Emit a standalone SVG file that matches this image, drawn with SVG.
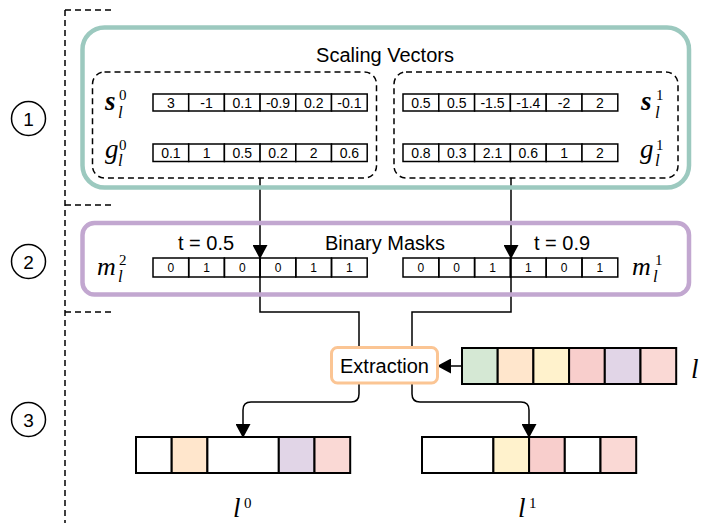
<svg xmlns="http://www.w3.org/2000/svg" width="702" height="523" viewBox="0 0 702 523">
<defs>
<style>
.t{font-family:"Liberation Sans",Arial,sans-serif;fill:#000}
.cell{fill:#fff;stroke:#000;stroke-width:1.5}
.vc{stroke:#000;stroke-width:2}
.ct{font-family:"Liberation Sans",Arial,sans-serif;font-size:14px;text-anchor:middle}
.mt{font-family:"Liberation Sans",Arial,sans-serif;font-size:12px;text-anchor:middle}
.dash{fill:none;stroke:#000;stroke-width:1.5;stroke-dasharray:6 4}
.m{font-family:"Liberation Serif","Times New Roman",serif;font-style:italic}
.n{font-family:"Liberation Serif","Times New Roman",serif;font-style:normal}
.conn{fill:none;stroke:#000;stroke-width:1.5}
</style>
<marker id="ah" viewBox="0 0 14 15" refX="13" refY="7.5" markerWidth="14" markerHeight="15" markerUnits="userSpaceOnUse" orient="auto">
<path d="M0 0 L14 7.5 L0 15 Z" fill="#000"/>
</marker>
</defs>
<rect width="702" height="523" fill="#fff"/>

<g id="stage-markers">
<path class="dash" d="M65 10 V523 M65 10 H113 M65 205 H113 M65 312 H113"/>
<circle cx="28.5" cy="118.5" r="17" fill="none" stroke="#000" stroke-width="1.5"/>
<text class="t" x="28.5" y="125.5" font-size="19" text-anchor="middle">1</text>
<circle cx="28.5" cy="261.5" r="17" fill="none" stroke="#000" stroke-width="1.5"/>
<text class="t" x="28.5" y="268.5" font-size="19" text-anchor="middle">2</text>
<circle cx="28.5" cy="419.5" r="17" fill="none" stroke="#000" stroke-width="1.5"/>
<text class="t" x="28.5" y="426.5" font-size="19" text-anchor="middle">3</text>
</g>

<g id="connectors">
<path class="conn" d="M260 178 V258" marker-end="url(#ah)"/>
<path class="conn" d="M511 178 V258" marker-end="url(#ah)"/>
<path class="conn" d="M260 258 V312 H359 V394 Q359 402 351 402 H251 Q243 402 243 410 V437" marker-end="url(#ah)"/>
<path class="conn" d="M511 258 V312 H412 V394 Q412 402 420 402 H521 Q529 402 529 410 V437" marker-end="url(#ah)"/>
<path class="conn" d="M461 366 H438" marker-end="url(#ah)"/>
</g>

<g id="scaling-vectors">
<rect x="82.5" y="27.5" width="606.5" height="160" rx="22" fill="none" stroke="#9CC9BF" stroke-width="4.5"/>
<text class="t" x="385" y="62" font-size="20" text-anchor="middle">Scaling Vectors</text>
</g>

<g id="vectors-0">
<rect class="dash" x="92.5" y="72" width="284" height="106" rx="12"/>
<text class="m" x="105" y="110" font-size="27" font-weight="bold">s</text>
<text class="n" x="119" y="100" font-size="15">0</text>
<text class="m" x="118" y="118" font-size="17">l</text>
<text class="m" x="105" y="158" font-size="27">g</text>
<text class="n" x="119" y="150" font-size="15">0</text>
<text class="m" x="118" y="166" font-size="17">l</text>
<g>
<rect class="cell" x="153" y="94" width="35.7" height="17"/><rect class="cell" x="188.7" y="94" width="35.7" height="17"/><rect class="cell" x="224.4" y="94" width="35.7" height="17"/><rect class="cell" x="260.1" y="94" width="35.7" height="17"/><rect class="cell" x="295.8" y="94" width="35.7" height="17"/><rect class="cell" x="331.5" y="94" width="35.7" height="17"/>
<text class="ct" x="170.9" y="107.5">3</text><text class="ct" x="206.6" y="107.5">-1</text><text class="ct" x="242.3" y="107.5">0.1</text><text class="ct" x="278" y="107.5">-0.9</text><text class="ct" x="313.7" y="107.5">0.2</text><text class="ct" x="349.4" y="107.5">-0.1</text>
</g>
<g>
<rect class="cell" x="153" y="144" width="35.7" height="17.5"/><rect class="cell" x="188.7" y="144" width="35.7" height="17.5"/><rect class="cell" x="224.4" y="144" width="35.7" height="17.5"/><rect class="cell" x="260.1" y="144" width="35.7" height="17.5"/><rect class="cell" x="295.8" y="144" width="35.7" height="17.5"/><rect class="cell" x="331.5" y="144" width="35.7" height="17.5"/>
<text class="ct" x="170.9" y="157.8">0.1</text><text class="ct" x="206.6" y="157.8">1</text><text class="ct" x="242.3" y="157.8">0.5</text><text class="ct" x="278" y="157.8">0.2</text><text class="ct" x="313.7" y="157.8">2</text><text class="ct" x="349.4" y="157.8">0.6</text>
</g>
</g>

<g id="vectors-1">
<rect class="dash" x="394" y="72" width="284" height="106" rx="12"/>
<text class="m" x="641" y="110" font-size="27" font-weight="bold">s</text>
<text class="n" x="656" y="100" font-size="15">1</text>
<text class="m" x="655" y="118" font-size="17">l</text>
<text class="m" x="640" y="158" font-size="27">g</text>
<text class="n" x="656" y="150" font-size="15">1</text>
<text class="m" x="655" y="166" font-size="17">l</text>
<g>
<rect class="cell" x="403" y="94" width="35.8" height="17"/><rect class="cell" x="438.8" y="94" width="35.8" height="17"/><rect class="cell" x="474.6" y="94" width="35.8" height="17"/><rect class="cell" x="510.4" y="94" width="35.8" height="17"/><rect class="cell" x="546.2" y="94" width="35.8" height="17"/><rect class="cell" x="582" y="94" width="35.8" height="17"/>
<text class="ct" x="420.9" y="107.5">0.5</text><text class="ct" x="456.7" y="107.5">0.5</text><text class="ct" x="492.5" y="107.5">-1.5</text><text class="ct" x="528.3" y="107.5">-1.4</text><text class="ct" x="564.1" y="107.5">-2</text><text class="ct" x="599.9" y="107.5">2</text>
</g>
<g>
<rect class="cell" x="403" y="144" width="35.8" height="17.5"/><rect class="cell" x="438.8" y="144" width="35.8" height="17.5"/><rect class="cell" x="474.6" y="144" width="35.8" height="17.5"/><rect class="cell" x="510.4" y="144" width="35.8" height="17.5"/><rect class="cell" x="546.2" y="144" width="35.8" height="17.5"/><rect class="cell" x="582" y="144" width="35.8" height="17.5"/>
<text class="ct" x="420.9" y="157.8">0.8</text><text class="ct" x="456.7" y="157.8">0.3</text><text class="ct" x="492.5" y="157.8">2.1</text><text class="ct" x="528.3" y="157.8">0.6</text><text class="ct" x="564.1" y="157.8">1</text><text class="ct" x="599.9" y="157.8">2</text>
</g>
</g>

<g id="binary-masks">
<rect x="82.5" y="223" width="606.5" height="71.5" rx="12" fill="none" stroke="#C2A7D0" stroke-width="4.5"/>
<text class="t" x="385" y="250" font-size="20" text-anchor="middle">Binary Masks</text>
<text class="t" x="206" y="250" font-size="20" text-anchor="middle">t = 0.5</text>
<text class="t" x="562" y="250" font-size="20" text-anchor="middle">t = 0.9</text>
</g>

<g id="mask-2">
<text class="m" x="97" y="275" font-size="26">m</text>
<text class="n" x="119" y="265" font-size="15">2</text>
<text class="m" x="118" y="282" font-size="17">l</text>
<rect class="cell" x="153" y="258" width="35.7" height="19" fill-opacity="0"/><rect class="cell" x="188.7" y="258" width="35.7" height="19" fill-opacity="0"/><rect class="cell" x="224.4" y="258" width="35.7" height="19" fill-opacity="0"/><rect class="cell" x="260.1" y="258" width="35.7" height="19" fill-opacity="0"/><rect class="cell" x="295.8" y="258" width="35.7" height="19" fill-opacity="0"/><rect class="cell" x="331.5" y="258" width="35.7" height="19" fill-opacity="0"/>
<text class="mt" x="170.9" y="272">0</text><text class="mt" x="206.6" y="272">1</text><text class="mt" x="242.3" y="272">0</text><text class="mt" x="278" y="272">0</text><text class="mt" x="313.7" y="272">1</text><text class="mt" x="349.4" y="272">1</text>
</g>

<g id="mask-1">
<text class="m" x="632" y="275" font-size="26">m</text>
<text class="n" x="655" y="265" font-size="15">1</text>
<text class="m" x="653" y="282" font-size="17">l</text>
<rect class="cell" x="403" y="258" width="35.8" height="19" fill-opacity="0"/><rect class="cell" x="438.8" y="258" width="35.8" height="19" fill-opacity="0"/><rect class="cell" x="474.6" y="258" width="35.8" height="19" fill-opacity="0"/><rect class="cell" x="510.4" y="258" width="35.8" height="19" fill-opacity="0"/><rect class="cell" x="546.2" y="258" width="35.8" height="19" fill-opacity="0"/><rect class="cell" x="582" y="258" width="35.8" height="19" fill-opacity="0"/>
<text class="mt" x="420.9" y="272">0</text><text class="mt" x="456.7" y="272">0</text><text class="mt" x="492.5" y="272">1</text><text class="mt" x="528.3" y="272">1</text><text class="mt" x="564.1" y="272">0</text><text class="mt" x="599.9" y="272">1</text>
</g>

<g id="extraction">
<rect x="331.5" y="347.5" width="106" height="35.5" rx="6" fill="#fff" stroke="#FBC594" stroke-width="3"/>
<text class="t" x="384.5" y="373" font-size="20" text-anchor="middle">Extraction</text>
</g>

<g id="layer-l">
<rect class="vc" x="462" y="348" width="35.7" height="36" fill="#D5E8D4"/>
<rect class="vc" x="497.7" y="348" width="35.7" height="36" fill="#FFE6CC"/>
<rect class="vc" x="533.4" y="348" width="35.7" height="36" fill="#FFF2CC"/>
<rect class="vc" x="569.1" y="348" width="35.7" height="36" fill="#F8CECC"/>
<rect class="vc" x="604.8" y="348" width="35.7" height="36" fill="#E1D5E7"/>
<rect class="vc" x="640.5" y="348" width="35.7" height="36" fill="#FAD9D5"/>
<text class="m" x="691" y="378" font-size="27">l</text>
</g>

<g id="layer-l0">
<rect class="vc" x="136" y="437" width="35.7" height="36" fill="#fff"/>
<rect class="vc" x="171.7" y="437" width="35.7" height="36" fill="#FFE6CC"/>
<rect class="vc" x="207.4" y="437" width="71.4" height="36" fill="#fff"/>
<rect class="vc" x="278.8" y="437" width="35.7" height="36" fill="#E1D5E7"/>
<rect class="vc" x="314.5" y="437" width="35.7" height="36" fill="#FAD9D5"/>
<text class="m" x="233" y="517" font-size="27">l</text>
<text class="n" x="244" y="508" font-size="15">0</text>
</g>

<g id="layer-l1">
<rect class="vc" x="422" y="437" width="71.4" height="36" fill="#fff"/>
<rect class="vc" x="493.4" y="437" width="35.7" height="36" fill="#FFF2CC"/>
<rect class="vc" x="529.1" y="437" width="35.7" height="36" fill="#F8CECC"/>
<rect class="vc" x="564.8" y="437" width="35.7" height="36" fill="#fff"/>
<rect class="vc" x="600.5" y="437" width="35.7" height="36" fill="#FAD9D5"/>
<text class="m" x="518" y="517" font-size="27">l</text>
<text class="n" x="529" y="508" font-size="15">1</text>
</g>
</svg>
